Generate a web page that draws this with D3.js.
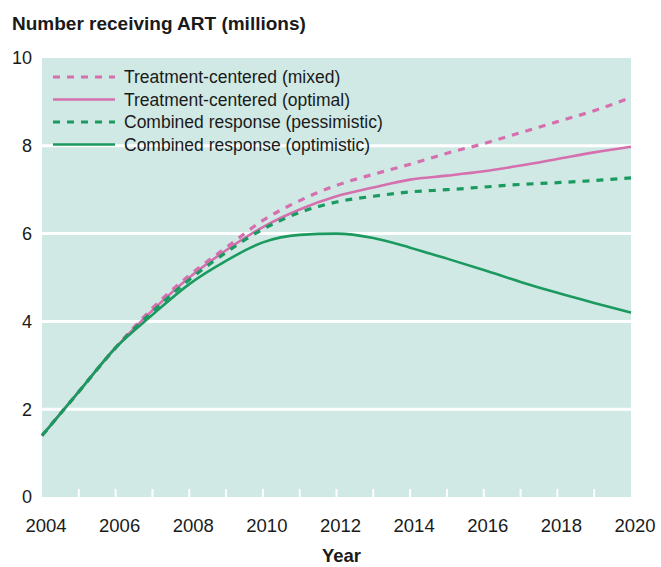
<!DOCTYPE html>
<html>
<head>
<meta charset="utf-8">
<script src="https://cdn.jsdelivr.net/npm/d3@7"></script>
<style>
  body { margin: 0; background: #fff; }
  text { font-family: "Liberation Sans", Arial, sans-serif; fill: #1a1a1a; }
</style>
</head>
<body>
<script>
// ART projections
const years = d3.range(2004, 2021);

const mixed =       [1.4, 2.4, 3.4, 4.3, 5.05, 5.68, 6.3, 6.75, 7.1, 7.35, 7.58, 7.83, 8.05, 8.3, 8.55, 8.8, 9.1];
const optimal =     [1.4, 2.4, 3.4, 4.25, 5.0, 5.62, 6.15, 6.55, 6.85, 7.05, 7.23, 7.32, 7.42, 7.55, 7.7, 7.85, 7.98];
const pessimistic = [1.4, 2.4, 3.4, 4.22, 4.95, 5.57, 6.1, 6.48, 6.72, 6.85, 6.95, 7.0, 7.06, 7.12, 7.16, 7.21, 7.27];
const optimistic =  [1.4, 2.4, 3.4, 4.15, 4.85, 5.38, 5.8, 5.97, 6.0, 5.9, 5.68, 5.43, 5.17, 4.9, 4.65, 4.42, 4.2];

const seriesNames = [
  'Treatment-centered (mixed)',
  'Treatment-centered (optimal)',
  'Combined response (pessimistic)',
  'Combined response (optimistic)',
];
const yTicks = [0, 2, 4, 6, 8, 10];
const xTicks = [2004, 2006, 2008, 2010, 2012, 2014, 2016, 2018, 2020];

const pink = '#d56fae';
const green = '#1b9a5f';
const series = [
  { name: seriesNames[0], values: mixed, color: pink, dash: '7,7' },
  { name: seriesNames[1], values: optimal, color: pink, dash: null },
  { name: seriesNames[2], values: pessimistic, color: green, dash: '7,7' },
  { name: seriesNames[3], values: optimistic, color: green, dash: null },
];

const svg = d3.select('body')
  .append('svg')
  .attr('width', 661)
  .attr('height', 567);

const margin = { top: 58, right: 30, bottom: 70, left: 42 };
const width = 661 - margin.left - margin.right;
const height = 567 - margin.top - margin.bottom;

const g = svg.append('g')
  .attr('transform', `translate(${margin.left} ${margin.top})`);

const x = d3.scaleLinear().domain([2004, 2020]).range([0, width]);
const y = d3.scaleLinear().domain([0, 10]).range([height, 0]);

g.append('rect')
  .attr('width', width)
  .attr('height', height)
  .attr('fill', '#d0e9e5');

// white gridlines
g.selectAll('.grid')
  .data(yTicks.filter(d => d > 0 && d < 10))
  .enter()
    .append('line')
    .attr('x1', 0)
    .attr('x2', width)
    .attr('y1', d => y(d))
    .attr('y2', d => y(d))
    .attr('stroke', '#fff')
    .attr('stroke-width', 3);

// small white year notches along the bottom
g.selectAll('.notch')
  .data(years.slice(1, -1))
  .enter()
    .append('line')
    .attr('x1', d => x(d))
    .attr('x2', d => x(d))
    .attr('y1', height - 8)
    .attr('y2', height)
    .attr('stroke', '#fff')
    .attr('stroke-width', 2);

g.selectAll('.ylab')
  .data(yTicks)
  .enter()
    .append('text')
    .attr('x', -10)
    .attr('y', d => y(d))
    .attr('dy', '0.36em')
    .attr('text-anchor', 'end')
    .style('font-size', '18px')
    .text(d => d);

g.selectAll('.xlab')
  .data(xTicks)
  .enter()
    .append('text')
    .attr('x', d => x(d) + 4)
    .attr('y', height + 28)
    .attr('dy', '0.36em')
    .attr('text-anchor', 'middle')
    .style('font-size', '18.5px')
    .text(d => d);

const line = d3.line()
  .x((d, i) => x(years[i]))
  .y(d => y(d))
  .curve(d3.curveMonotoneX);

series.forEach(s => {
  g.append('path')
    .attr('d', line(s.values))
    .attr('fill', 'none')
    .attr('stroke', s.color)
    .attr('stroke-width', s.dash ? 3.2 : 2.6)
    .attr('stroke-dasharray', s.dash);
});

// legend
const legend = g.append('g')
  .attr('transform', 'translate(11 19)');
series.forEach((s, i) => {
  const row = legend.append('g')
    .attr('transform', `translate(0 ${i * 22.5})`);
  row.append('line')
    .attr('x1', 0)
    .attr('x2', 62)
    .attr('stroke', s.color)
    .attr('stroke-width', s.dash ? 3.2 : 2.6)
    .attr('stroke-dasharray', s.dash);
  row.append('text')
    .attr('x', 71)
    .attr('dy', '0.36em')
    .style('font-size', '17.5px')
    .text(s.name);
});

svg.append('text')
  .attr('x', 12)
  .attr('y', 30)
  .style('font-size', '19px')
  .style('font-weight', 'bold')
  .text('Number receiving ART (millions)');

svg.append('text')
  .attr('x', margin.left + width / 2 + 5)
  .attr('y', 562)
  .attr('text-anchor', 'middle')
  .style('font-size', '18.5px')
  .style('font-weight', 'bold')
  .text('Year');
</script>
</body>
</html>
